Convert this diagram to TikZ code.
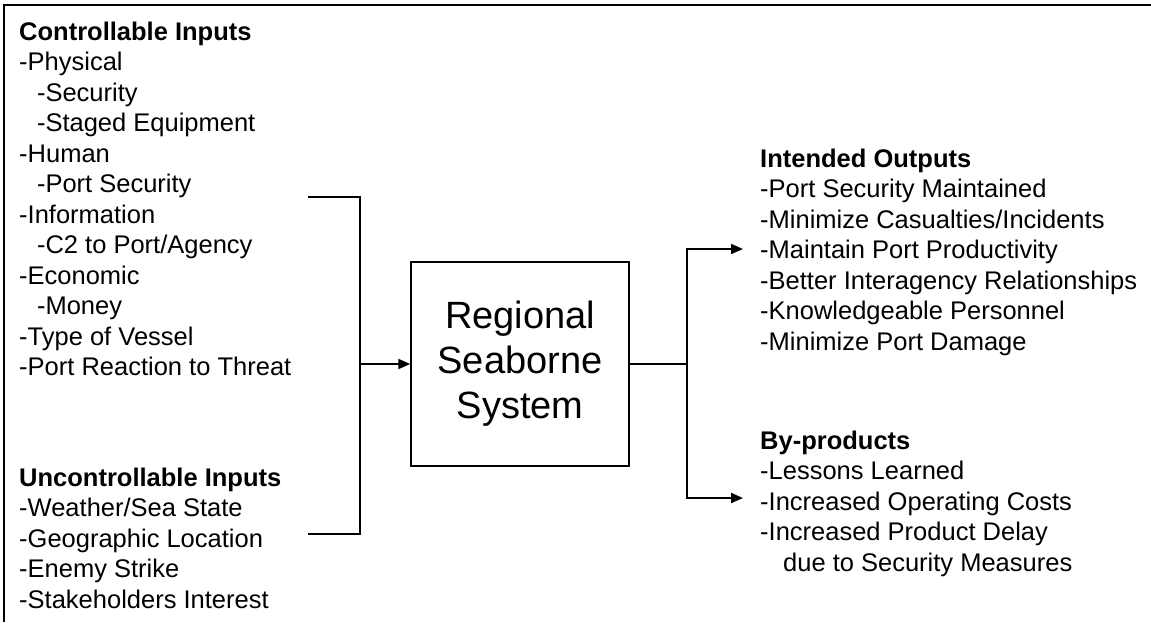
\documentclass[tikz,border=0pt]{standalone}
\usepackage{fontspec}
\setmainfont{Liberation Sans}
\usetikzlibrary{arrows.meta,positioning}
\newcommand{\subind}{\hspace*{0.7em}}

\begin{document}
\begin{tikzpicture}[
    x=1pt, y=-1pt,
    list/.style={anchor=north west, align=left, inner sep=0pt, font=\fontsize{25.5}{30.5}\selectfont},
    sysbox/.style={draw, line width=1.5pt, minimum width=218pt, minimum height=204pt, align=center, font=\fontsize{38}{45}\selectfont},
    link/.style={line width=2pt},
    arrow/.style={line width=2pt,-{Triangle[length=12pt,width=10pt]}}
]
    \useasboundingbox (0,0) rectangle (1151,622);
    \draw [line width=2.5pt] (1151,5) -- (4,5) -- (4,622);

    \node (ctrl) [list] at (19,21.5) {\textbf{Controllable Inputs}\\-Physical\\\subind-Security\\\subind-Staged Equipment\\-Human\\\subind-Port Security\\-Information\\\subind-C2 to Port/Agency\\-Economic\\\subind-Money\\-Type of Vessel\\-Port Reaction to Threat};
    \node (unctrl) [list] at (19,467.5) {\textbf{Uncontrollable Inputs}\\-Weather/Sea State\\-Geographic Location\\-Enemy Strike\\-Stakeholders Interest};
    \node (sys) [sysbox] at (520,364) {Regional\\Seaborne\\System};
    \node (outs) [list] at (760,148.5) {\textbf{Intended Outputs}\\-Port Security Maintained\\-Minimize Casualties/Incidents\\-Maintain Port Productivity\\-Better Interagency Relationships\\-Knowledgeable Personnel\\-Minimize Port Damage};
    \node (byp) [list] at (760,430.5) {\textbf{By-products}\\-Lessons Learned\\-Increased Operating Costs\\-Increased Product Delay\\\hspace*{0.9em}due to Security Measures};

    \coordinate (ctop) at (308,197);
    \coordinate (cbot) at (308,534);
    \coordinate (cjoin) at (360,364);
    \coordinate (ojoin) at (687,364);
    \coordinate (otop) at (743,249);
    \coordinate (obot) at (743,498);

    \draw [link] (ctop) -| (cjoin) |- (cbot);
    \draw [arrow] (cjoin) -- (sys.west);
    \draw [link] (sys.east) -- (ojoin);
    \draw [arrow] (ojoin) |- (otop);
    \draw [arrow] (ojoin) |- (obot);
\end{tikzpicture}
\end{document}
